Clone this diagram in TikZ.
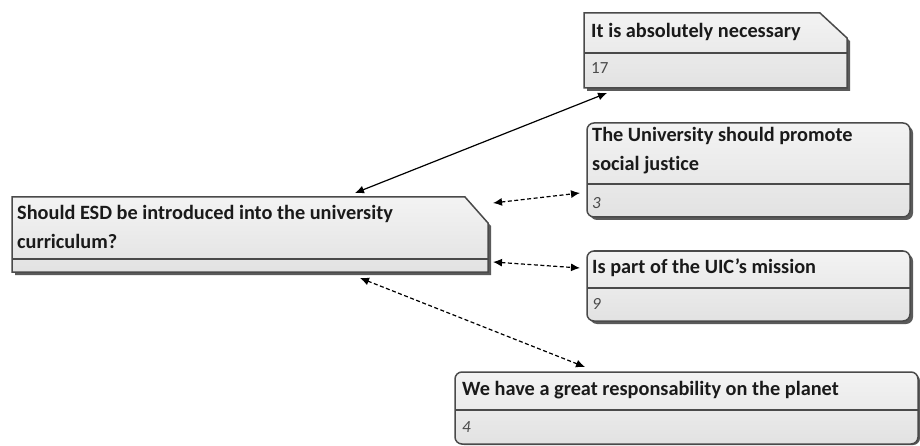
\documentclass[tikz,border=0pt]{standalone}
\usepackage{fontspec}
\setmainfont{Carlito}[Ligatures=NoCommon]
\usetikzlibrary{calc,arrows.meta}
\definecolor{bordergray}{HTML}{4A4A4A}
\definecolor{shadowgray}{HTML}{5A5A5A}
\definecolor{boxtop}{HTML}{F3F3F3}
\definecolor{boxbot}{HTML}{E2E2E2}
\definecolor{titlecol}{HTML}{1A1A1A}
\definecolor{valcol}{HTML}{4A4A4A}
\begin{document}
\begin{tikzpicture}[x=1pt,y=-1pt,
  boxbody/.style={draw=bordergray, line width=1.5pt, top color=boxtop, bottom color=boxbot},
  shadowbody/.style={fill=shadowgray, draw=none},
  divider/.style={draw=bordergray, line width=1.5pt},
  frame/.style={inner sep=0pt, outer sep=0pt, draw=none, anchor=north west},
  titletext/.style={font=\bfseries\fontsize{20.3}{29}\selectfont, text=titlecol, anchor=west, inner sep=0pt, align=left},
  valtext/.style={font=\itshape\fontsize{17}{18}\selectfont, text=valcol, anchor=west, inner sep=0pt},
  valup/.style={font=\fontsize{17}{18}\selectfont, text=valcol, anchor=west, inner sep=0pt},
  conn/.style={line width=1.2pt, {Latex[length=9pt,width=8pt]}-{Latex[length=9pt,width=8pt]}},
  dconn/.style={conn, dash pattern=on 4pt off 2.5pt}]
\useasboundingbox (0,0) rectangle (920,446);

% ---------- Box 1 (chamfered) ----------
\node[frame, minimum width=263pt, minimum height=75pt] (b1) at (584,13) {};
\fill[shadowbody] ($(b1.north west)+(3,3)$) -- ($(b1.north east)+(-24,3)$) -- ($(b1.north east)+(3,28)$) -- ($(b1.south east)+(3,3)$) -- ($(b1.south west)+(3,3)$) -- cycle;
\draw[boxbody] (b1.north west) -- ($(b1.north east)+(-27,0)$) -- ($(b1.north east)+(0,25)$) -- (b1.south east) -- (b1.south west) -- cycle;
\draw[divider] ($(b1.north west)+(0,40)$) -- ($(b1.north east)+(0,40)$);
\node[titletext] (t1) at ($(b1.north west)+(7,19)$) {It is absolutely necessary};
\node[valup] (v1) at ($(b1.north west)+(7,55)$) {17};

% ---------- Box 2 (rounded) ----------
\node[frame, minimum width=323pt, minimum height=94pt] (b2) at (587,123) {};
\fill[shadowbody, rounded corners=7pt] ($(b2.north west)+(3,3)$) rectangle ($(b2.south east)+(3,3)$);
\draw[boxbody, rounded corners=7pt] (b2.north west) rectangle (b2.south east);
\draw[divider] ($(b2.north west)+(0,61)$) -- ($(b2.north east)+(0,61)$);
\node[titletext] (t2) at ($(b2.north west)+(5,28)$) {The University should promote\\social justice};
\node[valtext] (v2) at ($(b2.north west)+(5,80)$) {3};

% ---------- Main box (chamfered) ----------
\node[frame, minimum width=476pt, minimum height=75pt] (q) at (12,197) {};
\fill[shadowbody] ($(q.north west)+(3,3)$) -- ($(q.north east)+(-20,3)$) -- ($(q.north east)+(3,29)$) -- ($(q.south east)+(3,3)$) -- ($(q.south west)+(3,3)$) -- cycle;
\draw[boxbody] (q.north west) -- ($(q.north east)+(-23,0)$) -- ($(q.north east)+(0,26)$) -- (q.south east) -- (q.south west) -- cycle;
\draw[divider] ($(q.north west)+(0,62)$) -- ($(q.north east)+(0,62)$);
\node[titletext] (tq) at ($(q.north west)+(5,30)$) {Should ESD be introduced into the university\\curriculum?};

% ---------- Box 3 (rounded) ----------
\node[frame, minimum width=323pt, minimum height=70pt] (b3) at (587,251) {};
\fill[shadowbody, rounded corners=7pt] ($(b3.north west)+(3,3)$) rectangle ($(b3.south east)+(3,3)$);
\draw[boxbody, rounded corners=7pt] (b3.north west) rectangle (b3.south east);
\draw[divider] ($(b3.north west)+(0,37)$) -- ($(b3.north east)+(0,37)$);
\node[titletext] (t3) at ($(b3.north west)+(5,17)$) {Is part of the UIC\char"0027 s mission};
\node[valtext] (v3) at ($(b3.north west)+(5,53)$) {9};

% ---------- Box 4 (rounded) ----------
\node[frame, minimum width=463pt, minimum height=72pt] (b4) at (455,372) {};
\fill[shadowbody, rounded corners=7pt] ($(b4.north west)+(2,2)$) rectangle ($(b4.south east)+(2,1)$);
\draw[boxbody, rounded corners=7pt] (b4.north west) rectangle (b4.south east);
\draw[divider] ($(b4.north west)+(0,38)$) -- ($(b4.north east)+(0,38)$);
\node[titletext] (t4) at ($(b4.north west)+(7,18)$) {We have a great responsability on the planet};
\node[valtext] (v4) at ($(b4.north west)+(7,55)$) {4};

% ---------- Connectors ----------
\draw[conn] ($(q.north west)+(343,-4)$) -- ($(b1.south west)+(23,5)$);
\draw[dconn] ($(q.north east)+(5,6)$) -- ($(b2.north west)+(-7,70)$);
\draw[dconn] ($(q.north east)+(5,65)$) -- ($(b3.north west)+(-7,17)$);
\draw[dconn] ($(q.south west)+(348,6)$) -- ($(b4.north west)+(130,-5)$);
\end{tikzpicture}
\end{document}
